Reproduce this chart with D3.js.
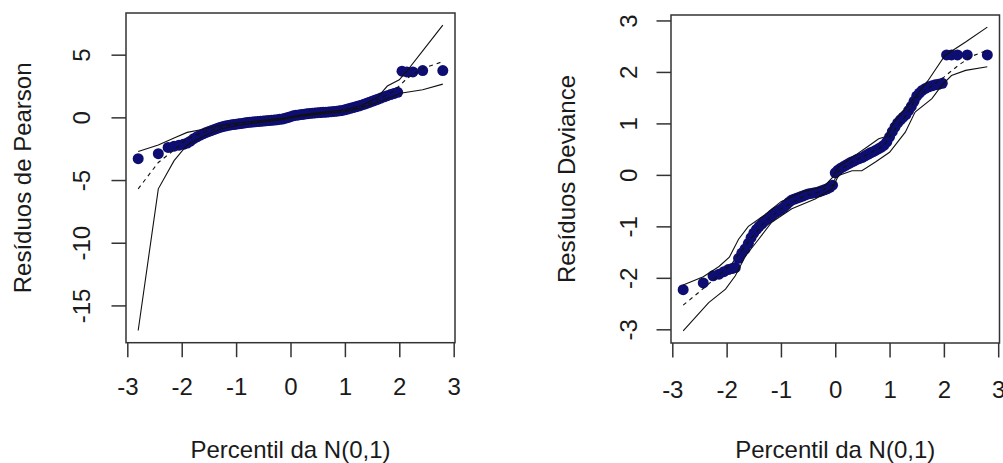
<!DOCTYPE html>
<html>
<head>
<meta charset="utf-8">
<script src="https://cdn.jsdelivr.net/npm/d3@7"></script>
<style>
  html, body { margin: 0; padding: 0; background: #ffffff; }
  svg { display: block; }
  text { font-family: "Liberation Sans", Arial, sans-serif; fill: #1a1a1a; }
</style>
</head>
<body>
<script>
// ---------------- DATA ----------------
const percentis = [
  -2.80,-2.43,-2.25,-2.14,-2.05,-1.97,-1.90,-1.84,-1.78,-1.72,
  -1.66,-1.60,
  -1.55,-1.50,-1.45,-1.40,-1.35,-1.30,-1.25,-1.20,-1.15,-1.10,-1.05,-1.00,-0.95,-0.90,
  -0.85,-0.80,-0.75,-0.70,-0.65,-0.60,-0.55,-0.50,-0.45,-0.40,-0.35,-0.30,-0.25,-0.20,
  -0.15,-0.10,-0.05,
  0.00,
  0.05,0.10,0.15,0.20,0.25,0.30,0.35,0.40,0.45,0.50,0.55,0.60,0.65,0.70,0.75,0.80,
  0.85,0.90,0.95,1.00,1.05,1.10,1.15,1.20,1.25,1.30,1.35,1.40,1.45,1.50,1.55,
  1.60,1.66,
  1.72,1.78,1.84,1.90,1.97,2.05,2.14,2.25,2.43,2.80
];

const residuosPearson = [
  -3.30,-2.90,-2.40,-2.30,-2.22,-2.15,-2.05,-1.90,-1.70,-1.55,
  -1.42,-1.30,
  -1.20,-1.12,-1.04,-0.96,-0.88,-0.80,-0.74,-0.69,-0.64,-0.60,-0.57,-0.54,-0.51,-0.48,
  -0.45,-0.42,-0.40,-0.38,-0.35,-0.33,-0.31,-0.29,-0.27,-0.25,-0.23,-0.21,-0.19,-0.16,
  -0.13,-0.08,-0.02,
  0.05,
  0.12,0.16,0.19,0.22,0.25,0.28,0.31,0.33,0.35,0.37,0.38,0.40,0.41,0.43,0.45,0.47,
  0.49,0.52,0.55,0.60,0.66,0.72,0.78,0.84,0.90,0.97,1.04,1.12,1.20,1.28,1.36,
  1.44,1.54,
  1.64,1.73,1.82,1.90,2.00,3.68,3.62,3.62,3.73,3.73
];

const residuosDeviance = [
  -2.23,-2.10,-1.96,-1.93,-1.88,-1.84,-1.82,-1.80,-1.62,-1.52,
  -1.44,-1.33,
  -1.22,-1.13,-1.06,-1.00,-0.95,-0.90,-0.86,-0.82,-0.77,-0.73,-0.70,-0.67,-0.63,-0.58,
  -0.53,-0.49,-0.47,-0.45,-0.43,-0.41,-0.39,-0.37,-0.36,-0.35,-0.34,-0.33,-0.31,-0.29,
  -0.27,-0.24,-0.20,
  0.04,
  0.09,0.13,0.16,0.19,0.22,0.25,0.27,0.30,0.32,0.34,0.37,0.40,0.43,0.45,0.48,0.51,
  0.54,0.58,0.64,0.74,0.84,0.93,1.01,1.07,1.12,1.17,1.25,1.33,1.43,1.53,1.59,
  1.64,1.68,
  1.71,1.73,1.75,1.76,1.78,2.33,2.33,2.33,2.33,2.33
];

// Envelope (Pearson)
const pearsonSupX = [-2.80,-2.43,-2.14,-1.90,-1.60,-1.30,-1.00,-0.60,-0.20,0.00,0.20,0.60,1.00,1.30,1.60,1.78,2.00,2.14,2.43,2.80];
const pearsonSupY = [-2.72,-2.20,-1.65,-1.20,-0.95,-0.65,-0.45,-0.28,-0.10,0.05,0.20,0.42,0.60,0.95,1.60,2.50,3.00,3.70,5.30,7.35];
const pearsonInfX = [-2.80,-2.43,-2.14,-1.90,-1.60,-1.30,-1.00,-0.60,-0.20,0.00,0.20,0.60,1.00,1.30,1.60,1.90,2.05,2.43,2.80];
const pearsonInfY = [-17.00,-5.70,-3.45,-2.20,-1.50,-0.95,-0.65,-0.42,-0.20,-0.05,0.10,0.30,0.45,0.75,1.20,1.70,1.95,2.20,2.65];
const pearsonMedX = [-2.80,-2.43,-2.14,-1.90,-1.60,-1.30,-1.00,-0.60,-0.20,0.00,0.20,0.60,1.00,1.30,1.60,1.90,2.14,2.43,2.80];
const pearsonMedY = [-5.70,-3.60,-2.60,-1.70,-1.20,-0.80,-0.55,-0.35,-0.15,0.00,0.15,0.36,0.52,0.85,1.40,2.10,3.10,3.90,4.45];

// Envelope (Deviance)
const devianceSupX = [-2.80,-2.43,-2.14,-1.95,-1.78,-1.60,-1.30,-1.00,-0.60,-0.20,-0.05,0.05,0.30,0.60,0.80,0.95,1.10,1.40,1.70,2.02,2.40,2.80];
const devianceSupY = [-2.14,-1.98,-1.78,-1.60,-1.25,-1.00,-0.78,-0.52,-0.33,-0.22,-0.05,0.15,0.33,0.55,0.70,0.75,1.05,1.42,1.82,2.32,2.58,2.87];
const devianceInfX = [-2.80,-2.33,-2.02,-1.84,-1.65,-1.41,-1.17,-0.80,-0.37,-0.06,0.06,0.31,0.49,0.74,1.00,1.29,1.47,1.78,1.96,2.14,2.40,2.80];
const devianceInfY = [-3.03,-2.48,-2.22,-1.96,-1.57,-1.25,-0.92,-0.66,-0.47,-0.27,-0.01,0.08,0.08,0.25,0.44,0.83,1.22,1.48,1.74,1.93,2.03,2.10];
const devianceMedX = [-2.80,-2.51,-2.20,-1.90,-1.60,-1.30,-1.00,-0.60,-0.30,-0.05,0.05,0.30,0.60,0.90,1.05,1.30,1.50,1.80,2.00,2.27,2.50,2.80];
const devianceMedY = [-2.53,-2.28,-2.00,-1.72,-1.30,-0.92,-0.66,-0.43,-0.33,-0.20,0.07,0.24,0.40,0.57,0.82,1.15,1.50,1.75,1.90,2.13,2.30,2.42];

const xTicks = [-3,-2,-1,0,1,2,3];
const pearsonTicks = [-15,-10,-5,0,5];
const devianceTicks = [-3,-2,-1,0,1,2,3];
const xTitle = "Percentil da N(0,1)";
const pearsonTitle = "Resíduos de Pearson";
const devianceTitle = "Resíduos Deviance";

// ---------------- DRAW ----------------
const W = 1003, H = 463;
const svg = d3.select("body").append("svg").attr("width", W).attr("height", H);
svg.append("rect").attr("width", W).attr("height", H).attr("fill", "#ffffff");

const pointColor = "#0e0e72";
const FS = 24;

function pad(ext) { const d = (ext[1] - ext[0]) * 0.04; return [ext[0] - d, ext[1] + d]; }

function drawPanel(cfg) {
  const g = svg.append("g");
  const b = cfg.box;
  const x = d3.scaleLinear().domain(pad(d3.extent(percentis))).range([b.l, b.r]);
  const allY = cfg.y.concat(cfg.sup[1], cfg.inf[1], cfg.med[1]);
  const y = d3.scaleLinear().domain(pad(d3.extent(allY))).range([b.b, b.t]);

  // points
  g.append("g").selectAll("circle")
    .data(percentis.map((p, i) => [p, cfg.y[i]]))
    .join("circle")
    .attr("cx", d => x(d[0])).attr("cy", d => y(d[1]))
    .attr("r", 5.5).attr("fill", pointColor);

  // envelope lines
  const line = d3.line().x(d => x(d[0])).y(d => y(d[1]));
  const mk = (xs, ys) => xs.map((v, i) => [v, ys[i]]);
  [[cfg.sup, null], [cfg.inf, null], [cfg.med, "4,4"]].forEach(([arr, dash]) => {
    g.append("path").attr("d", line(mk(arr[0], arr[1])))
      .attr("fill", "none").attr("stroke", "#111").attr("stroke-width", 1.1)
      .attr("stroke-dasharray", dash);
  });

  // box
  g.append("rect").attr("x", b.l).attr("y", b.t)
    .attr("width", b.r - b.l).attr("height", b.b - b.t)
    .attr("fill", "none").attr("stroke", "#333").attr("stroke-width", 1.5);

  // x axis
  const xa = d3.axisBottom(x).tickValues(xTicks).tickSize(14.5).tickFormat(d3.format("d"));
  const gx = g.append("g").attr("transform", `translate(0,${b.b})`).call(xa);
  gx.select(".domain").remove();
  gx.selectAll(".tick line").attr("stroke", "#333").attr("stroke-width", 1.5);
  gx.selectAll(".tick text")
    .attr("y", cfg.xLabBase - b.b).attr("dy", null)
    .attr("font-size", FS).attr("fill", "#1a1a1a")
    .text(d => d < 0 ? "-" + Math.abs(d) : d);

  // y axis
  const ya = d3.axisLeft(y).tickValues(cfg.ticks).tickSize(14.5);
  const gy = g.append("g").attr("transform", `translate(${b.l},0)`).call(ya);
  gy.select(".domain").remove();
  gy.selectAll(".tick line").attr("stroke", "#333").attr("stroke-width", 1.5);
  gy.selectAll(".tick text").remove();
  gy.selectAll(".tick").append("text")
    .attr("transform", `translate(${cfg.yLabBase - b.l},0) rotate(-90)`)
    .attr("text-anchor", "middle").attr("font-size", FS).attr("fill", "#1a1a1a")
    .text(d => d < 0 ? "-" + Math.abs(d) : d);

  // titles
  g.append("text").attr("x", (b.l + b.r) / 2).attr("y", cfg.xTitleBase)
    .attr("text-anchor", "middle").attr("font-size", FS).text(xTitle);
  g.append("text")
    .attr("transform", `translate(${cfg.yTitleBase},${(b.t + b.b) / 2}) rotate(-90)`)
    .attr("text-anchor", "middle").attr("font-size", FS).text(cfg.title);
}

drawPanel({
  box: { l: 126, r: 455, t: 13, b: 342.7 },
  y: residuosPearson,
  sup: [pearsonSupX, pearsonSupY], inf: [pearsonInfX, pearsonInfY], med: [pearsonMedX, pearsonMedY],
  ticks: pearsonTicks, title: pearsonTitle,
  xLabBase: 395.5, yLabBase: 90, xTitleBase: 458.3, yTitleBase: 31
});
drawPanel({
  box: { l: 671, r: 999.5, t: 15, b: 343 },
  y: residuosDeviance,
  sup: [devianceSupX, devianceSupY], inf: [devianceInfX, devianceInfY], med: [devianceMedX, devianceMedY],
  ticks: devianceTicks, title: devianceTitle,
  xLabBase: 398, yLabBase: 636.5, xTitleBase: 458, yTitleBase: 575
});
</script>
</body>
</html>
